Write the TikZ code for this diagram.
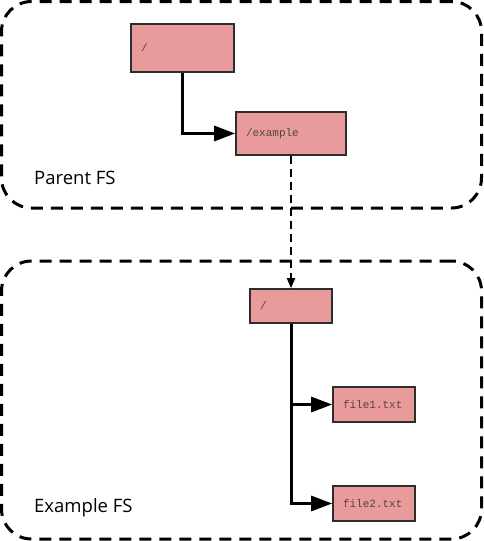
\documentclass[tikz,border=0pt]{standalone}
\usepackage{fontspec}
\setmainfont{Open Sans}
\setmonofont{Liberation Mono}
\usetikzlibrary{arrows.meta}
\definecolor{dirfill}{RGB}{233,154,154}
\definecolor{dirline}{RGB}{45,45,45}
\definecolor{dirtext}{RGB}{80,70,70}
\begin{document}
\begin{tikzpicture}
		[x=1pt,y=-1pt,
		FSFrame/.style={draw=black,line width=3pt,dash pattern=on 12pt off 8pt,rounded corners=30pt,inner sep=0pt},
		DirNode/.style={draw=dirline,fill=dirfill,line width=1.6pt,inner xsep=10pt,inner ysep=0pt,align=left,text=dirtext,font=\ttfamily\fontsize{11}{13}\selectfont},
		FSLabel/.style={anchor=west,inner sep=0pt,font=\fontsize{18.5}{21}\selectfont},
		TreeArrow/.style={line width=3pt,-{Triangle[length=21pt,width=15pt]}},
		LinkArrow/.style={line width=1.8pt,dash pattern=on 8pt off 5pt,-{Triangle[length=10pt,width=8pt]}}]
		
		\useasboundingbox (0,0) rectangle (483,541);
		
		% 两个文件系统的虚线框
		\node[FSFrame,minimum width=480pt,minimum height=206.5pt] (parent) at (241.5,104.75) {};
		\node[FSFrame,minimum width=480pt,minimum height=278pt] (example) at (241.5,400) {};
		\node[FSLabel] (parent_lbl) at (34,178) {Parent FS};
		\node[FSLabel] (example_lbl) at (34,508) {Example FS};
		
		% Parent FS 的结点
		\node[DirNode,text width=83pt,minimum height=48pt] (p_root) at (182.5,48) {/};
		\node[DirNode,text width=90pt,minimum height=43pt] (p_ex) at (291,133.5) {/example};
		
		% Example FS 的结点
		\node[DirNode,text width=62pt,minimum height=34pt] (e_root) at (291,306) {/};
		\foreach \y/\yy in {1/404.5,2/503.5}
		\node[DirNode,text width=62pt,minimum height=35pt] (f_\y) at (374,\yy) {file\y.txt};
		
		% 目录之间的连线
		\draw[TreeArrow] (p_root.south) |- (p_ex.west);
		\draw[LinkArrow] (p_ex.south) -- (e_root.north);
		\foreach \y in {1,2}
		\draw[TreeArrow] (e_root.south) |- (f_\y.west);
		
	\end{tikzpicture}
\end{document}
